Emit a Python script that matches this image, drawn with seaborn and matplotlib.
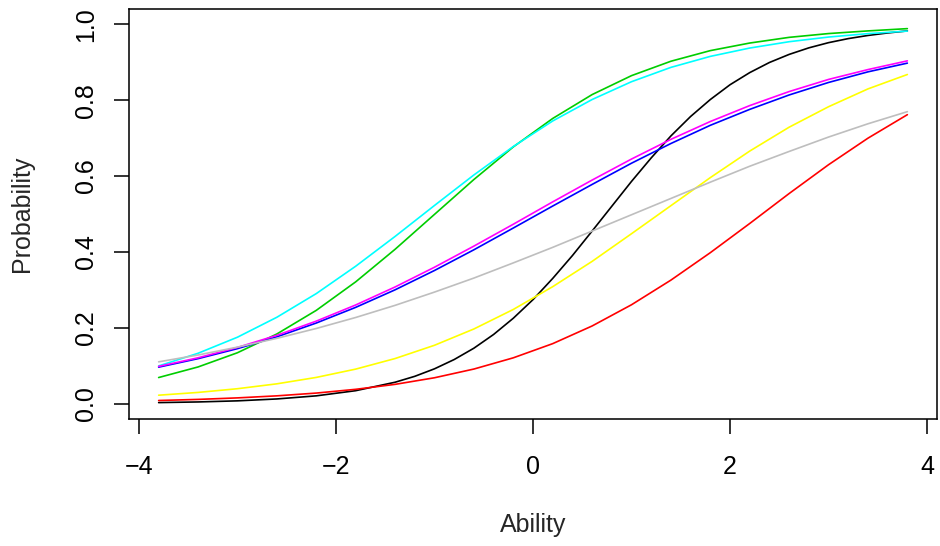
import numpy as np
import pandas as pd
import matplotlib
matplotlib.use("Agg")
import matplotlib.pyplot as plt
import seaborn as sns

# ability grid and item characteristic curves
ability = [-3.8, -3.4, -3.0, -2.6, -2.2, -1.8, -1.4, -1.0, -0.6, -0.2,
           0.2, 0.6, 1.0, 1.4, 1.8, 2.2, 2.6, 3.0, 3.4, 3.8]
# the steep black item is read on a finer grid
ability_fine = [-3.8, -3.4, -3.0, -2.6, -2.2, -1.8, -1.4, -1.2, -1.0, -0.8, -0.6, -0.4, -0.2,
                0.0, 0.2, 0.4, 0.6, 0.8, 1.0, 1.2, 1.4, 1.6, 1.8, 2.0, 2.2, 2.4, 2.6, 2.8,
                3.0, 3.2, 3.4, 3.6, 3.8]

item_black = [0.0025, 0.0042, 0.0071, 0.0121, 0.0203, 0.0339, 0.0562, 0.0718, 0.0916, 0.1161,
              0.146, 0.1822, 0.225, 0.2741, 0.330, 0.3903, 0.455, 0.5205, 0.586, 0.648,
              0.706, 0.7573, 0.802, 0.841, 0.873, 0.8997, 0.921, 0.9383, 0.952, 0.9627,
              0.971, 0.9776, 0.983]
item_red = [0.0080, 0.0109, 0.0149, 0.0203, 0.0276, 0.0375, 0.0506, 0.0680, 0.091, 0.1206,
            0.158, 0.2046, 0.2606, 0.3256, 0.398, 0.475, 0.554, 0.630, 0.700, 0.762]
item_green = [0.0686, 0.0965, 0.134, 0.1835, 0.2458, 0.321, 0.4069, 0.499, 0.591, 0.677,
              0.752, 0.815, 0.865, 0.903, 0.931, 0.951, 0.966, 0.976, 0.983, 0.989]
item_blue = [0.096, 0.1184, 0.1448, 0.176, 0.2124, 0.2537, 0.300, 0.351, 0.4056, 0.463,
             0.521, 0.578, 0.634, 0.686, 0.734, 0.776, 0.814, 0.847, 0.875, 0.898]
item_cyan = [0.0992, 0.1326, 0.175, 0.2276, 0.290, 0.3622, 0.4408, 0.5225, 0.603, 0.678,
             0.7454, 0.802, 0.849, 0.8868, 0.9158, 0.9378, 0.9545, 0.9668, 0.9758, 0.9825]
item_magenta = [0.098, 0.1207, 0.148, 0.180, 0.2174, 0.260, 0.3075, 0.3596, 0.4153, 0.473,
                0.532, 0.5895, 0.645, 0.697, 0.744, 0.786, 0.823, 0.855, 0.881, 0.904]
item_yellow = [0.022, 0.0293, 0.0391, 0.0520, 0.0689, 0.0908, 0.1187, 0.1537, 0.1967, 0.2482,
               0.3083, 0.375, 0.448, 0.522, 0.596, 0.666, 0.729, 0.783, 0.830, 0.868]
item_gray = [0.110, 0.128, 0.1488, 0.172, 0.198, 0.227, 0.259, 0.294, 0.331, 0.371,
             0.412, 0.455, 0.498, 0.541, 0.584, 0.626, 0.665, 0.703, 0.738, 0.770]

items = ["black", "red", "green", "blue", "cyan", "magenta", "yellow", "gray"]
colors = {"black": "#000000", "red": "#FF0000", "green": "#00CD00", "blue": "#0000FF",
          "cyan": "#00FFFF", "magenta": "#FF00FF", "yellow": "#FFFF00", "gray": "#BEBEBE"}
curves = [item_black, item_red, item_green, item_blue, item_cyan, item_magenta, item_yellow, item_gray]
grids = [ability_fine] + [ability] * 7

rows = []
for name, xs, vals in zip(items, grids, curves):
    for a, p in zip(xs, vals):
        rows.append({"Ability": a, "Probability": p, "item": name})
df = pd.DataFrame(rows)

sns.set_style("ticks")
plt.rcParams['font.family'] = ['Liberation Sans', 'DejaVu Sans']

fig = plt.figure(figsize=(9.4, 5.46), dpi=100)
ax = fig.add_axes([128.7 / 940, 1 - 418.7 / 546, (937.3 - 128.7) / 940, (418.7 - 9.3) / 546])

sns.lineplot(data=df, x="Ability", y="Probability", hue="item", hue_order=items,
             palette=colors, legend=False, linewidth=1.2, ax=ax)

ax.set_xlim(-3.8 - 0.304, 3.8 + 0.304)
ax.set_ylim(-0.04, 1.04)
ax.set_xticks([-4, -2, 0, 2, 4])
ax.set_yticks([0, 0.2, 0.4, 0.6, 0.8, 1.0])
ax.set_yticklabels(["0.0", "0.2", "0.4", "0.6", "0.8", "1.0"])

for s in ax.spines.values():
    s.set_visible(True)
    s.set_linewidth(1.12)
    s.set_color("black")

ax.tick_params(axis="both", direction="out", length=10.8, width=1.12, labelsize=18, colors="black")
ax.tick_params(axis="x", pad=15)
ax.tick_params(axis="y", pad=11)
for lab in ax.get_yticklabels():
    lab.set_rotation(90)
    lab.set_va("center")

ax.set_xlabel("Ability", fontsize=18, labelpad=25)
ax.set_ylabel("Probability", fontsize=18, labelpad=29)

fig.savefig("out.png", dpi=100)
